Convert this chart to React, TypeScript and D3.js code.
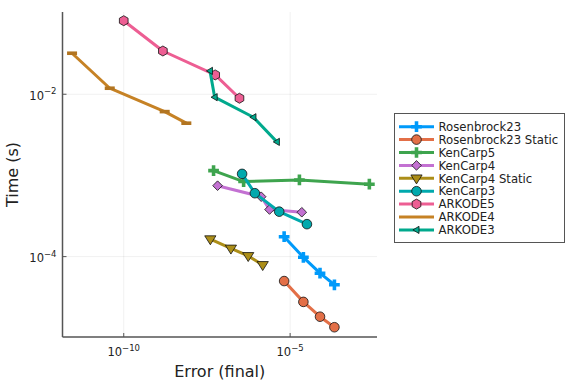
import * as d3 from "d3";

const W = 576;
const H = 384;

const seriesNames = [
  "Rosenbrock23",
  "Rosenbrock23 Static",
  "KenCarp5",
  "KenCarp4",
  "KenCarp4 Static",
  "KenCarp3",
  "ARKODE5",
  "ARKODE4",
  "ARKODE3",
];
const colors = ["#009AFA", "#E36F47", "#3EA44E", "#C371D2", "#AC8E18", "#00A9AD", "#ED5E93", "#C68225", "#00A98D"];
const markers = ["cross", "circle", "cross", "diamond", "dtriangle", "circle", "hexagon", "hline", "ltriangle"];

// error (final) per series
const rosenbrock23Err = [6.6e-6, 2.5e-5, 7.9e-5, 2.14e-4];
const rosenbrock23StaticErr = [6.6e-6, 2.5e-5, 7.9e-5, 2.14e-4];
const kenCarp5Err = [5.0e-8, 4.0e-7, 1.9e-5, 2.4e-3];
const kenCarp4Err = [6.6e-8, 1.35e-6, 2.4e-6, 2.24e-5];
const kenCarp4StaticErr = [4.0e-8, 1.66e-7, 5.5e-7, 1.5e-6];
const kenCarp3Err = [3.6e-7, 8.7e-7, 4.7e-6, 3.2e-5];
const arkode5Err = [1.0e-10, 1.5e-9, 5.6e-8, 3.0e-7];
const arkode4Err = [2.8e-12, 3.8e-11, 1.7e-9, 7.6e-9];
const arkode3Err = [3.9e-8, 5.4e-8, 7.9e-7, 4.0e-6];

// time (s) per series
const rosenbrock23Time = [1.76e-4, 9.8e-5, 6.25e-5, 4.5e-5];
const rosenbrock23StaticTime = [5.0e-5, 2.77e-5, 1.82e-5, 1.35e-5];
const kenCarp5Time = [1.146e-3, 8.4e-4, 8.8e-4, 7.8e-4];
const kenCarp4Time = [7.48e-4, 5.47e-4, 3.8e-4, 3.52e-4];
const kenCarp4StaticTime = [1.64e-4, 1.26e-4, 1.02e-4, 7.9e-5];
const kenCarp3Time = [1.045e-3, 6.04e-4, 3.58e-4, 2.51e-4];
const arkode5Time = [0.0805, 0.0341, 0.0173, 0.00893];
const arkode4Time = [0.032, 0.01186, 0.00611, 0.0044];
const arkode3Time = [0.0194, 0.0092, 0.00521, 0.00259];

const errs = [rosenbrock23Err, rosenbrock23StaticErr, kenCarp5Err, kenCarp4Err, kenCarp4StaticErr, kenCarp3Err, arkode5Err, arkode4Err, arkode3Err];
const times = [rosenbrock23Time, rosenbrock23StaticTime, kenCarp5Time, kenCarp4Time, kenCarp4StaticTime, kenCarp3Time, arkode5Time, arkode4Time, arkode3Time];

const xTicks = [-10, -5];
const yTicks = [-2, -4];

const font = "'DejaVu Sans', sans-serif";

function Marker({ kind, x, y, color }) {
  const stroke = "#111";
  const sw = 0.8;
  if (kind === "cross") {
    return <path d={d3.symbol(d3.symbolCross, 64)()} transform={`translate(${x},${y})`} fill={color} />;
  }
  if (kind === "circle") {
    return <circle cx={x} cy={y} r={4.8} fill={color} stroke={stroke} strokeWidth={sw} />;
  }
  if (kind === "diamond") {
    const r = 4.8;
    return <path d={`M${x},${y - r}L${x + r},${y}L${x},${y + r}L${x - r},${y}Z`} fill={color} stroke={stroke} strokeWidth={sw} />;
  }
  if (kind === "dtriangle") {
    const r = 5.6;
    return <path d={`M${x - r},${y - r * 0.6}L${x + r},${y - r * 0.6}L${x},${y + r}Z`} fill={color} stroke={stroke} strokeWidth={sw} />;
  }
  if (kind === "hexagon") {
    const r = 5;
    const pts = d3.range(6).map((i) => {
      const a = (Math.PI / 3) * i + Math.PI / 6;
      return [x + r * Math.cos(a), y + r * Math.sin(a)];
    });
    return <path d={"M" + pts.map((p) => p.join(",")).join("L") + "Z"} fill={color} stroke={stroke} strokeWidth={sw} />;
  }
  if (kind === "hline") {
    return <rect x={x - 5} y={y - 1.8} width={10} height={3.6} fill={d3.color(color).darker(0.3).toString()} />;
  }
  if (kind === "ltriangle") {
    const r = 3.6;
    return <path d={`M${x - r},${y}L${x + r * 0.7},${y - r}L${x + r * 0.7},${y + r}Z`} fill={color} stroke={stroke} strokeWidth={sw} />;
  }
  return null;
}

function Pow({ x, y, exp, anchor }) {
  return (
    <text x={x} y={y} textAnchor={anchor} fontFamily={font} fontSize={11.5} fill="#222">
      10
      <tspan dy={-5.5} fontSize={8.5}>{`\u2212${Math.abs(exp)}`}</tspan>
    </text>
  );
}

export default function App() {
  const left = 62.5;
  const right = 377;
  const top = 12;
  const bottom = 337;

  const x = d3.scaleLog().domain([Math.pow(10, -11.84), Math.pow(10, -2.39)]).range([left, right]);
  const y = d3.scaleLog().domain([Math.pow(10, -4.99), Math.pow(10, -0.987)]).range([bottom, top]);

  const line = d3
    .line()
    .x((d) => x(d[0]))
    .y((d) => y(d[1]));

  const lg = { x: 394.5, y: 113.5, w: 170, h: 129, rowH: 12.9 };

  return (
    <svg width={W} height={H} style={{ position: "absolute", left: 0, top: 0, background: "#fff" }}>
      {/* grid */}
      {xTicks.map((t) => (
        <line key={"gx" + t} x1={x(Math.pow(10, t))} x2={x(Math.pow(10, t))} y1={top} y2={bottom} stroke="#000" strokeOpacity={0.1} strokeWidth={0.6} />
      ))}
      {yTicks.map((t) => (
        <line key={"gy" + t} x1={left} x2={right} y1={y(Math.pow(10, t))} y2={y(Math.pow(10, t))} stroke="#000" strokeOpacity={0.1} strokeWidth={0.6} />
      ))}

      {/* series */}
      {seriesNames.map((name, i) => {
        const pts = errs[i].map((e, j) => [e, times[i][j]]);
        return (
          <g key={name}>
            <path d={line(pts)} fill="none" stroke={colors[i]} strokeWidth={3} strokeLinejoin="round" />
            {pts.map((p, j) => (
              <Marker key={j} kind={markers[i]} x={x(p[0])} y={y(p[1])} color={colors[i]} />
            ))}
          </g>
        );
      })}

      {/* axes */}
      <line x1={left} x2={left} y1={top} y2={bottom} stroke="#555" strokeWidth={1.5} />
      <line x1={left} x2={right} y1={bottom} y2={bottom} stroke="#555" strokeWidth={1.5} />
      {xTicks.map((t) => (
        <g key={"tx" + t}>
          <line x1={x(Math.pow(10, t))} x2={x(Math.pow(10, t))} y1={bottom} y2={bottom - 4} stroke="#555" strokeWidth={1} />
          <Pow x={x(Math.pow(10, t))} y={bottom + 19} exp={t} anchor="middle" />
        </g>
      ))}
      {yTicks.map((t) => (
        <g key={"ty" + t}>
          <line x1={left} x2={left + 4} y1={y(Math.pow(10, t))} y2={y(Math.pow(10, t))} stroke="#555" strokeWidth={1} />
          <Pow x={left - 6} y={y(Math.pow(10, t)) + 5.5} exp={t} anchor="end" />
        </g>
      ))}

      <text x={(left + right) / 2} y={376.5} textAnchor="middle" fontFamily={font} fontSize={16} fill="#222">
        Error (final)
      </text>
      <text transform={`translate(18,${(top + bottom) / 2}) rotate(-90)`} textAnchor="middle" fontFamily={font} fontSize={16} fill="#222">
        Time (s)
      </text>

      {/* legend */}
      <rect x={lg.x} y={lg.y} width={lg.w} height={lg.h} fill="#fff" stroke="#555" strokeWidth={1} />
      {seriesNames.map((name, i) => {
        const cy = lg.y + 13.2 + i * lg.rowH;
        return (
          <g key={"lg" + name}>
            <line x1={399} x2={434} y1={cy} y2={cy} stroke={colors[i]} strokeWidth={3} />
            <Marker kind={markers[i] === "hline" ? "none" : markers[i]} x={416.5} y={cy} color={colors[i]} />
            <text x={438.5} y={cy + 4.2} fontFamily={font} fontSize={11.7} fill="#222">
              {name}
            </text>
          </g>
        );
      })}
    </svg>
  );
}
